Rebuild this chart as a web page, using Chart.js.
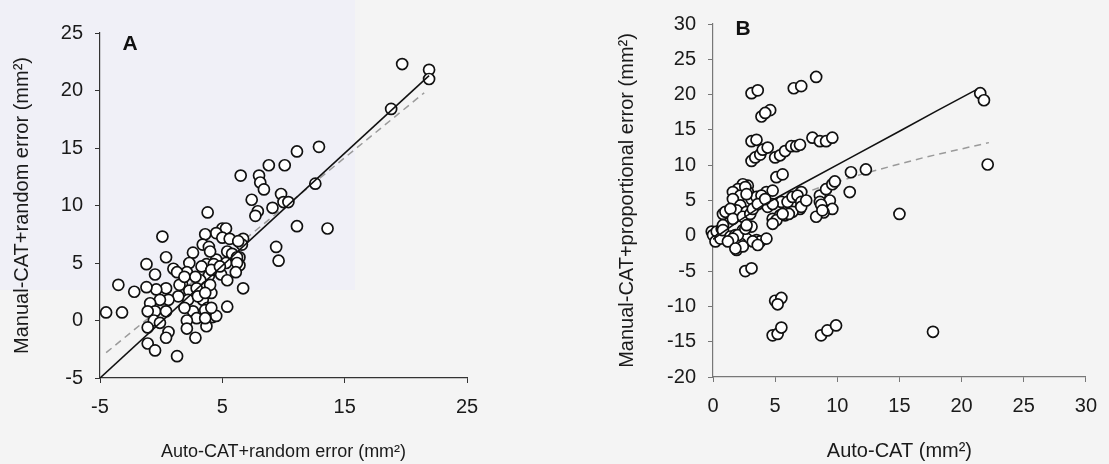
<!DOCTYPE html>
<html>
<head>
<meta charset="utf-8">
<script src="https://cdn.jsdelivr.net/npm/chart.js@4.4.1/dist/chart.umd.min.js"></script>
<style>
  html, body { margin: 0; padding: 0; }
  body { width: 1109px; height: 464px; position: relative; overflow: hidden; background: #f4f4f4; }
  .tint { position: absolute; left: 0; top: 0; width: 355px; height: 290px; background: #f0f0f7; }
  canvas { position: absolute; top: 0; }
  #chartA { left: 0; }
  #chartB { left: 600px; }
</style>
</head>
<body>
<div class="tint"></div>
<canvas id="chartA" width="600" height="464"></canvas>
<canvas id="chartB" width="509" height="464"></canvas>
<script>
// panel A: auto vs manual measurement, both with random error
const panelA = [
  [19.7,22.3],[21.9,21.8],[21.9,21.0],[18.8,18.4],[12.9,15.1],[11.1,14.7],[8.8,13.5],[10.1,13.5],[6.5,12.6],[8.0,12.6],
  [8.1,12.0],[8.4,11.4],[9.8,11.0],[10.0,10.3],[10.4,10.3],[7.4,10.5],[9.1,9.8],[7.9,9.5],[7.7,9.1],[3.8,9.4],
  [12.6,11.9],[11.1,8.2],[13.6,8.0],[9.4,6.4],[9.6,5.2],[6.7,7.1],[6.6,6.6],[6.4,5.5],[6.4,4.8],[6.7,2.8],
  [5.0,8.0],[5.3,8.0],[4.5,7.6],[3.6,7.5],[5.0,7.2],[5.6,7.1],[6.3,6.9],[3.4,6.6],[3.9,6.4],[0.1,7.3],
  [2.6,5.9],[0.4,5.5],[5.4,6.0],[5.8,5.8],[6.2,5.5],[4.5,5.3],[3.7,4.9],[4.3,4.9],[5.3,5.0],[6.2,5.0],
  [2.3,5.0],[-1.2,4.9],[1.0,4.5],[-0.5,4.0],[2.1,4.2],[3.3,4.7],[3.9,3.9],[4.9,4.0],[6.1,4.2],[5.4,3.5],
  [1.3,4.2],[1.7,3.2],[3.2,3.5],[3.7,2.9],[4.1,2.4],[2.3,2.6],[2.9,2.8],[2.2,1.8],[3.4,1.8],[3.8,1.1],
  [1.4,2.1],[0.4,2.8],[-0.4,2.7],[-1.2,2.9],[0.6,1.8],[-0.1,1.8],[-0.9,1.5],[-0.5,0.8],[0.4,0.8],[-1.1,0.8],
  [-3.5,3.1],[-2.2,2.5],[-4.5,0.7],[-3.2,0.7],[2.6,0.8],[2.9,0.2],[3.6,0.9],[4.2,0.3],[4.5,0.4],[5.4,1.2],
  [2.1,0.0],[2.1,-0.7],[3.7,-0.5],[2.8,-1.5],[-0.6,0.0],[-0.1,-0.2],[-1.1,-0.6],[0.6,-1.0],[0.4,-1.5],[-1.1,-2.0],
  [-0.5,-2.6],[1.3,-3.1],[4.0,6.0],[1.5,3.1],[4.0,3.1],[3.0,2.1],[1.9,1.1],[4.1,1.1],[3.6,0.2],[1.9,3.8],
  [2.8,3.8],[4.1,4.4],[4.8,4.7],[3.6,2.4]
];
const fitAX = [-5, 21.9];
const fitAY = [-5, 21.3];
const refAX = [-4.5, 21.5];
const refAY = [-2.8, 19.8];

// panel B: auto vs manual measurement with proportional error
const panelB = [
  [8.3,22.5],[6.5,20.9],[7.1,21.2],[3.1,20.2],[3.6,20.6],[3.9,16.9],[4.6,17.8],[4.2,17.4],[3.1,13.4],[3.5,13.6],
  [3.1,10.6],[3.4,11.1],[3.8,11.5],[4.0,12.2],[4.4,12.5],[5.0,11.1],[5.4,11.4],[5.8,12.0],[6.3,12.7],[6.7,12.7],
  [7.0,12.9],[8.0,13.9],[8.6,13.4],[9.1,13.4],[9.6,13.9],[5.1,8.3],[5.6,8.7],[4.3,6.2],[4.8,6.4],[2.8,7.1],
  [2.4,7.3],[2.0,6.6],[1.6,6.2],[2.2,5.7],[2.8,6.2],[3.1,5.2],[3.5,5.5],[3.9,5.7],[1.6,5.2],[2.6,6.9],
  [2.7,5.9],[2.2,4.3],[1.9,3.6],[0.8,3.1],[1.0,3.4],[1.4,3.8],[2.7,3.4],[5.5,4.8],[6.0,4.8],[6.4,5.5],
  [7.1,6.2],[6.8,5.7],[8.6,5.7],[9.1,6.6],[9.6,7.3],[8.6,4.8],[9.4,5.0],[9.6,3.8],[11.0,6.2],[11.1,9.0],
  [4.8,2.4],[5.4,2.9],[5.8,2.9],[7.0,3.8],[6.4,3.4],[9.8,7.7],[8.9,3.3],[8.3,2.7],[8.7,4.4],[12.3,9.4],
  [7.1,4.8],[6.1,3.1],[4.4,4.1],[4.8,4.5],[5.1,2.2],[7.1,4.1],[7.5,5.0],[8.8,3.6],[-0.1,0.6],[0.0,0.1],
  [0.3,0.6],[0.2,-0.8],[0.6,-0.4],[0.7,1.0],[0.8,1.5],[0.8,0.8],[1.4,-0.1],[1.8,0.1],[2.4,0.8],[3.1,1.3],
  [3.5,-0.6],[3.8,-0.8],[4.3,-0.4],[2.7,-0.4],[2.2,-1.1],[1.9,-2.0],[2.4,-1.5],[3.2,-0.8],[1.6,2.4],[2.4,2.7],
  [3.0,3.1],[2.0,0.1],[1.6,-0.4],[1.2,-0.8],[2.6,1.0],[3.6,-1.3],[2.7,1.5],[3.2,3.8],[3.6,4.5],[4.2,5.2],
  [4.8,1.7],[5.6,3.1],[1.8,-1.8],[2.6,-5.0],[3.1,-4.6],[5.0,-9.2],[5.5,-8.8],[5.2,-9.7],[4.8,-14.1],[5.2,-13.9],
  [5.5,-13.0],[8.7,-14.1],[9.2,-13.4],[9.9,-12.7],[15.0,3.1],[17.7,-13.6],[21.5,20.2],[21.8,19.2],[22.1,10.1]
];
const fitBX = [0, 2, 4, 7, 11, 15, 18, 21.2];
const fitBY = [-0.5, 2.0, 4.3, 7.2, 11.0, 14.8, 17.7, 20.7];
const refBX = [0, 4, 8.8, 12.3, 17, 22.2];
const refBY = [0.5, 3.9, 7.0, 8.9, 11.1, 13.2];

const FONT = "'Liberation Sans', Arial, Helvetica, sans-serif";
Chart.defaults.font.family = FONT;
Chart.defaults.font.size = 20;
Chart.defaults.color = '#1a1a1a';

const toXY = (xs, ys) => xs.map((x, i) => ({x: x, y: ys[i]}));

const panelLetter = {
  id: 'panelLetter',
  afterDraw(chart, args, opts) {
    const {ctx, chartArea} = chart;
    ctx.save();
    ctx.font = 'bold 21px ' + FONT;
    ctx.fillStyle = '#111';
    ctx.textAlign = 'center';
    ctx.textBaseline = 'middle';
    ctx.fillText(opts.text, chartArea.left + opts.dx, chartArea.top + opts.dy);
    ctx.restore();
  }
};

function makeAxis(min, max, step, title, titleSize, color, fit, titlePad) {
  return {
    type: 'linear',
    min: min,
    max: max,
    ticks: {stepSize: step, padding: 12, color: '#1a1a1a'},
    grid: {drawOnChartArea: false, drawTicks: true, tickLength: 5, color: color, tickColor: color},
    border: {display: true, color: color, width: 1.2},
    title: {display: true, text: title, color: '#1a1a1a', font: {size: titleSize}, padding: titlePad},
    afterFit: fit
  };
}

function makeChart(id, points, fitX, fitY, refX, refY, cfg) {
  return new Chart(document.getElementById(id), {
    type: 'scatter',
    data: {
      datasets: [
        {
          data: toXY(fitX, fitY),
          showLine: true,
          borderColor: '#111',
          borderWidth: 1.6,
          pointRadius: 0,
          order: 0
        },
        {
          data: points.map(p => ({x: p[0], y: p[1]})),
          pointRadius: 5.5,
          pointBorderWidth: 1.7,
          pointBackgroundColor: '#ffffff',
          pointBorderColor: '#111',
          clip: false,
          order: 1
        },
        {
          data: toXY(refX, refY),
          showLine: true,
          borderColor: '#9a9a9a',
          borderWidth: 1.5,
          borderDash: [7, 5],
          pointRadius: 0,
          order: 2
        }
      ]
    },
    options: {
      responsive: false,
      animation: false,
      devicePixelRatio: 1,
      layout: {padding: cfg.padding},
      scales: {
        x: makeAxis(cfg.xMin, cfg.xMax, cfg.xStep, cfg.xTitle, cfg.xTitleSize, cfg.axisColor,
          s => { s.height = cfg.xHeight; }, {top: 0, bottom: 1}),
        y: makeAxis(cfg.yMin, cfg.yMax, cfg.yStep, cfg.yTitle, 20, cfg.axisColor,
          s => { s.width = cfg.yWidth; }, {top: cfg.yTitleGap, bottom: 0})
      },
      plugins: {
        legend: {display: false},
        tooltip: {enabled: false},
        panelLetter: cfg.letter
      }
    },
    plugins: [panelLetter]
  });
}

makeChart('chartA', panelA, fitAX, fitAY, refAX, refAY, {
  padding: {left: 0, right: 133, top: 33, bottom: 0},
  xMin: -5, xMax: 25, xStep: 10,
  yMin: -5, yMax: 25, yStep: 5,
  xTitle: 'Auto-CAT+random error (mm²)', xTitleSize: 18,
  yTitle: 'Manual-CAT+random error (mm²)',
  axisColor: '#333',
  xHeight: 86, yWidth: 100, yTitleGap: 10,
  letter: {text: 'A', dx: 30, dy: 11}
});

makeChart('chartB', panelB, fitBX, fitBY, refBX, refBY, {
  padding: {left: 0, right: 22, top: 22, bottom: 0},
  xMin: 0, xMax: 30, xStep: 5,
  yMin: -20, yMax: 30, yStep: 5,
  xTitle: 'Auto-CAT (mm²)', xTitleSize: 20,
  yTitle: 'Manual-CAT+proportional error (mm²)',
  axisColor: '#777',
  xHeight: 87, yWidth: 113, yTitleGap: 15,
  letter: {text: 'B', dx: 30, dy: 5}
});
</script>
</body>
</html>
